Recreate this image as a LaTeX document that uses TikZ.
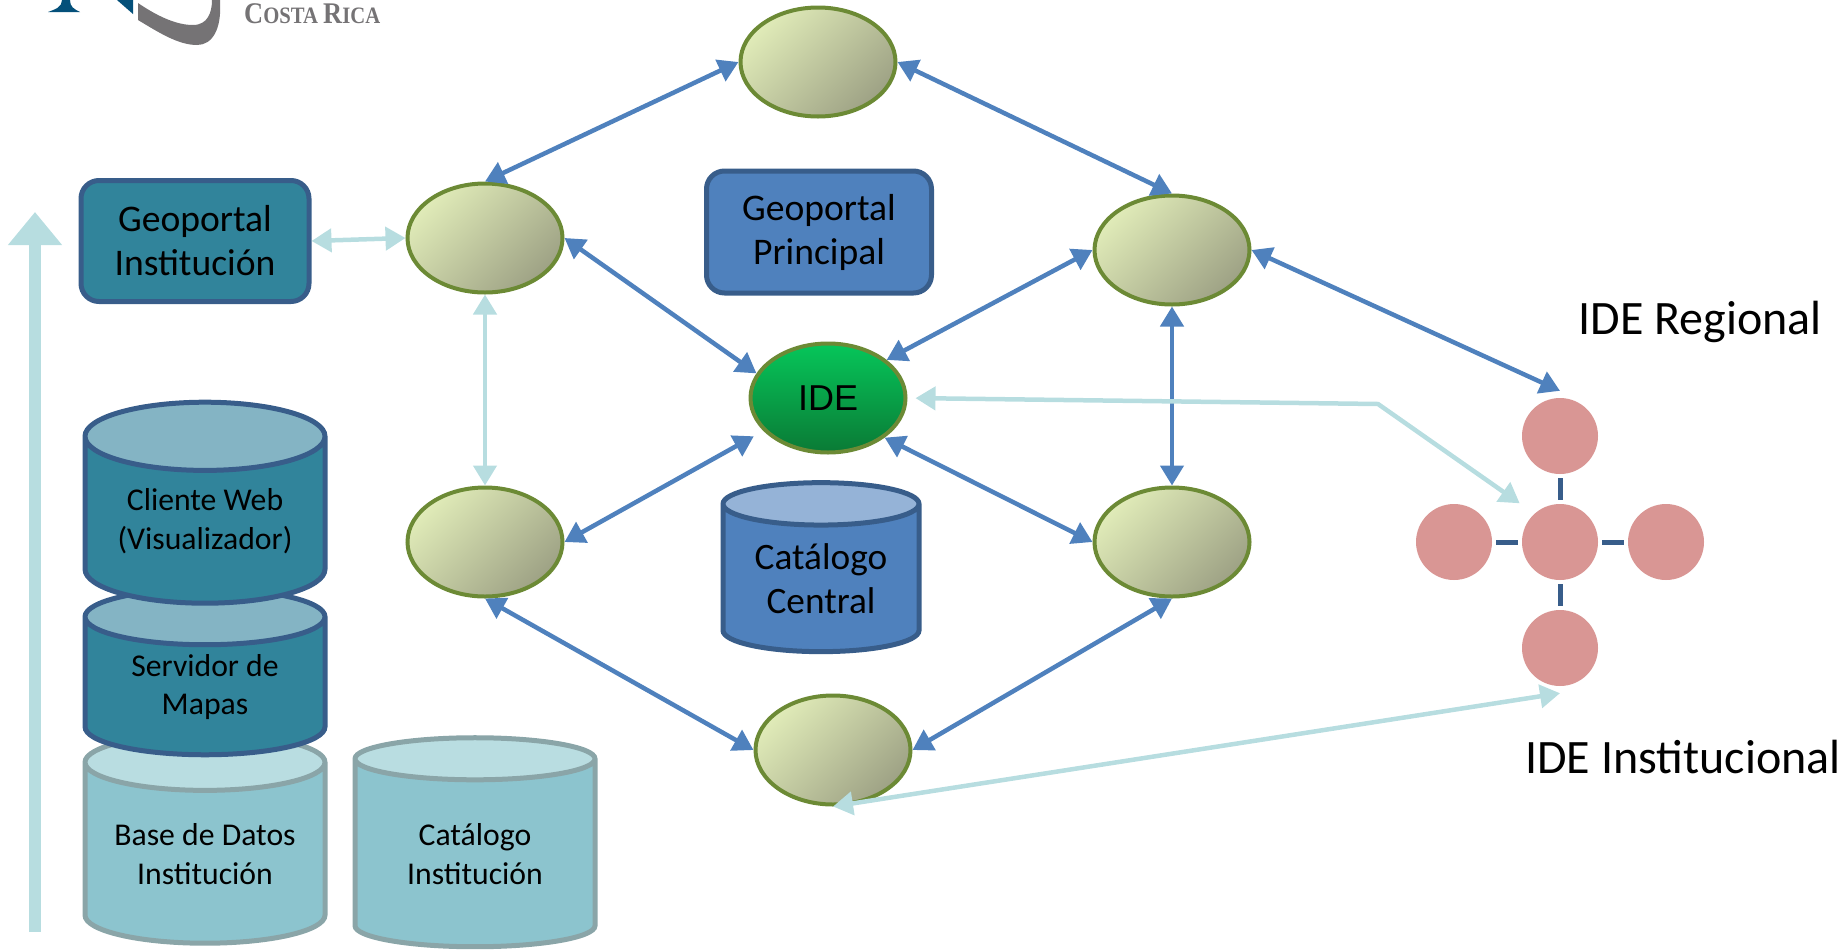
\documentclass[tikz,border=0pt]{standalone}
\usepackage{fontspec}
\setmainfont{Carlito}
\newfontfamily\arialfont{Liberation Sans}
\newfontfamily\logofont[FakeStretch=0.88]{Liberation Serif}
\usepackage{tikz}
\usetikzlibrary{arrows.meta,shapes.geometric}
\definecolor{darkline}{HTML}{385D8A}
\definecolor{tealbody}{HTML}{31849B}
\definecolor{tealtop}{HTML}{84B4C4}
\definecolor{palebody}{HTML}{8CC4CE}
\definecolor{paletop}{HTML}{B9DDE1}
\definecolor{paleline}{HTML}{8AA5A8}
\definecolor{bluebody}{HTML}{4F81BD}
\definecolor{bluetop}{HTML}{95B3D7}
\definecolor{palearrow}{HTML}{B7DDE0}
\definecolor{rosedot}{HTML}{D99694}
\definecolor{olive}{HTML}{6C8A35}
\definecolor{hublight}{HTML}{E0EBB8}
\definecolor{hubdark}{HTML}{9EA285}
\definecolor{idelight}{HTML}{06C65A}
\definecolor{idedark}{HTML}{0A7A35}
\definecolor{logoblue}{HTML}{04507A}
\definecolor{logogray}{HTML}{757375}

\begin{document}
\begin{tikzpicture}[x=1pt,y=-1pt,>={Triangle[width=23pt,length=20pt]},
                    node distance=106pt]
  \tikzstyle{every node}=[align=center,font=\fontsize{31.7pt}{38.5pt}\selectfont]
  \tikzstyle{hubshape}=[ellipse,minimum width=155pt,minimum height=109pt,inner sep=0pt,
                   line width=4pt,draw=olive]
  \tikzstyle{hub}=[hubshape,left color=hublight,right color=hubdark,shading angle=45]
  \tikzstyle{dot}=[circle,fill=rosedot,minimum size=76pt,inner sep=0pt]
  \tikzstyle{drum}=[cylinder,shape border rotate=90,cylinder uses custom fill,
                    line width=5pt,inner sep=0pt,draw]
  \tikzstyle{tealdrum}=[drum,draw=darkline,cylinder body fill=tealbody,
                        cylinder end fill=tealtop,minimum width=240pt]
  \tikzstyle{paledrum}=[drum,draw=paleline,cylinder body fill=palebody,
                        cylinder end fill=paletop,minimum width=240pt,
                        shape aspect=.31,minimum height=209pt]
  \tikzstyle{panel}=[rectangle,rounded corners=18pt,line width=5pt,draw=darkline,
                     font=\fontsize{37.6pt}{44pt}\selectfont,inner sep=0pt]
  \tikzstyle{strong}=[<->,line width=4.5pt,color=bluebody]
  \tikzstyle{pale}=[<->,line width=4.5pt,color=palearrow]
  \tikzstyle{tick}=[line width=5pt,color=darkline,shorten <=4pt,shorten >=4pt]
  \tikzstyle{caption}=[font=\fontsize{48pt}{54pt}\selectfont]

  \useasboundingbox (0,0) rectangle (1845,951);

  \fill[logoblue] (48,12) .. controls (56,9) and (62,7) .. (62,0) -- (70,0)
                  .. controls (70,7) and (74,9) .. (80,12) -- cycle;
  \fill[logoblue] (117,0) -- (133,0) -- (133,14) -- cycle;
  \fill[logogray] (138,3) .. controls (160,18) and (178,25) .. (193,25)
                  .. controls (208,25) and (212,12) .. (212,0) -- (220,0)
                  .. controls (222,30) and (212,45) .. (197,45)
                  .. controls (178,45) and (158,32) .. (138,20) -- cycle;
  \node[anchor=west,inner sep=0pt,text=logogray] (logotext) at (244,14)
    {\logofont\bfseries\fontsize{30pt}{30pt}\selectfont C\fontsize{23.5pt}{30pt}\selectfont OSTA
     \fontsize{30pt}{30pt}\selectfont R\fontsize{23.5pt}{30pt}\selectfont ICA};

  \coordinate (trunkfoot) at (35,932);
  \coordinate (trunktip) at (35,212);
  \draw[-{Triangle[width=52pt,length=33pt]},line width=12pt,color=palearrow] (trunkfoot) -- (trunktip);

  \node[panel,fill=tealbody,minimum width=228pt,minimum height=121pt] (geoinst) at (195,241)
    {Geoportal\\Institución};
  \node[panel,fill=bluebody,minimum width=225pt,minimum height=122pt] (geoprin) at (819,232)
    {Geoportal\\Principal};

  \node[paledrum] (basedatos) at (205,854) {Base de Datos\\Institución};
  \node[paledrum] (catinst) at (475,854) {Catálogo\\Institución};
  \node[tealdrum,shape aspect=.38,minimum height=166pt] (servidor) at (205,687) {Servidor de\\Mapas};
  \node[tealdrum,shape aspect=.39,minimum height=201pt] (cliente) at (205,521) {Cliente Web\\(Visualizador)};
  \node[drum,draw=darkline,cylinder body fill=bluebody,cylinder end fill=bluetop,
        minimum width=196pt,minimum height=169pt,shape aspect=.32,
        font=\fontsize{37.3pt}{44pt}\selectfont] (catcen) at (821,579) {Catálogo\\Central};

  \node[hub] (top) at (818,62) {};
  \node[hub] (lu) at (485,238) {};
  \node[hub] (ru) at (1172,250) {};
  \node[hub] (ll) [below of=lu,node distance=304pt] {};
  \node[hub] (rl) [below of=ru,node distance=292pt] {};
  \node[hub] (bot) at (833,750) {};
  \node[hubshape,top color=idelight,bottom color=idedark,
        font=\arialfont\fontsize{36pt}{40pt}\selectfont] (ide) at (828,398) {IDE};

  \node[dot] (mid) at (1560,542) {};
  \node[dot] (dotn) [above of=mid] {};
  \node[dot] (dots) [below of=mid] {};
  \node[dot] (dotw) [left of=mid] {};
  \node[dot] (dote) [right of=mid] {};

  \node[caption] (regional) at (1700,322) {IDE Regional};
  \node[caption] (institucional) at (1683,757) {IDE Institucional};

  \coordinate (elbow) at (1378,404);

  \draw[tick] (dotn) -- (mid);
  \draw[tick] (dots) -- (mid);
  \draw[tick] (dotw) -- (mid);
  \draw[tick] (dote) -- (mid);

  \path[strong] (top.west) edge (lu.north)
                (top.east) edge (ru.north)
                (lu.east)  edge (ide.161)
                (ru.west)  edge (ide.33)
                (ll.east)  edge [shorten >=11pt] (ide.207)
                (rl.west)  edge (ide.-35)
                (ru.south) edge (rl.north)
                (ll.south) edge (bot.west)
                (rl.south) edge (bot.east)
                (ru.east)  edge ([yshift=7pt]dotn.north);
  \path[pale]   (geoinst.east) edge (lu.west)
                (lu.south) edge (ll.north)
                (bot.south) edge ([yshift=-7pt]dots.south);
  \draw[pale,shorten <=8pt,shorten >=18pt] (ide.east) -- (elbow) -- (mid.132);
\end{tikzpicture}
\end{document}
